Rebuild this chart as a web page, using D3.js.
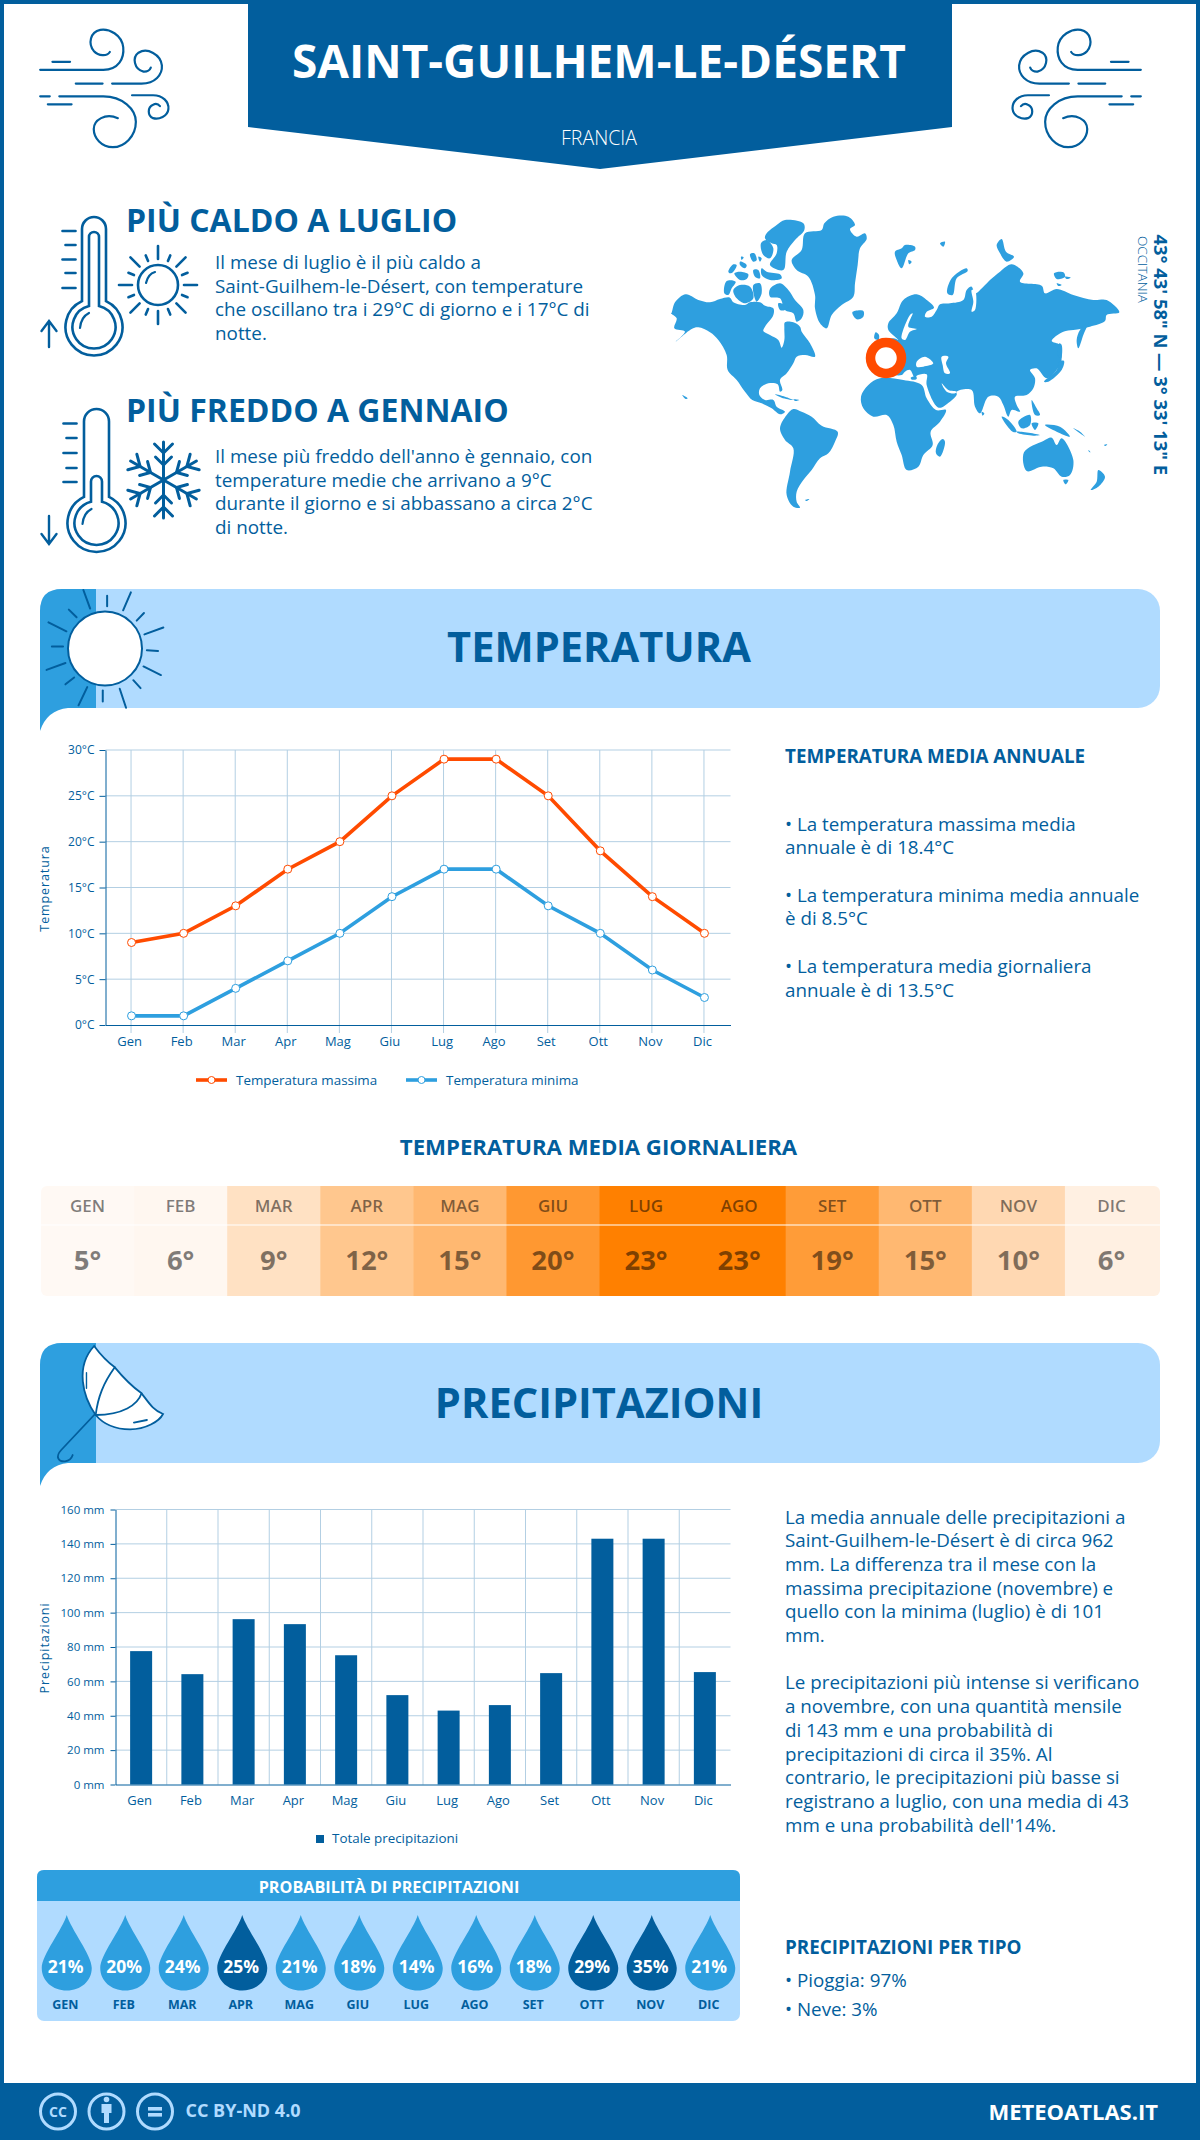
<!DOCTYPE html>
<html>
<head>
<meta charset="utf-8">
<script src="https://cdn.jsdelivr.net/npm/d3@7"></script>
<style>
  html, body { margin: 0; padding: 0; background: #fff; }
  svg { display: block; font-family: "Open Sans", sans-serif; }
  text { fill: #025e9d; }
</style>
</head>
<body>
<div id="chart"></div>
<script>
//chart values
var months = ["Gen", "Feb", "Mar", "Apr", "Mag", "Giu", "Lug", "Ago", "Set", "Ott", "Nov", "Dic"];
var monthsUpper = ["GEN", "FEB", "MAR", "APR", "MAG", "GIU", "LUG", "AGO", "SET", "OTT", "NOV", "DIC"];
var tempMax = [9, 10, 13, 17, 20, 25, 29, 29, 25, 19, 14, 10];
var tempMin = [1, 1, 4, 7, 10, 14, 17, 17, 13, 10, 6, 3];
var tempAvg = [5, 6, 9, 12, 15, 20, 23, 23, 19, 15, 10, 6];
//unrounded daily means
var tempAvgShade = [5, 5.3, 8.6, 12.5, 14.7, 19.4, 23, 23, 18.9, 14.7, 9.9, 6.3];
var precip = [77.6, 64.2, 96.2, 93.3, 75.2, 52, 43, 46.2, 64.8, 143, 143, 65.4];
var precipProb = [21, 20, 24, 25, 21, 18, 14, 16, 18, 29, 35, 21];
var tempTicks = [0, 5, 10, 15, 20, 25, 30];
var precipTicks = [0, 20, 40, 60, 80, 100, 120, 140, 160];

var hotLines = ["Il mese di luglio è il più caldo a", "Saint-Guilhem-le-Désert, con temperature", "che oscillano tra i 29°C di giorno e i 17°C di", "notte."];
var coldLines = ["Il mese più freddo dell'anno è gennaio, con", "temperature medie che arrivano a 9°C", "durante il giorno e si abbassano a circa 2°C", "di notte."];
var tempNotes = ["• La temperatura massima media", "annuale è di 18.4°C", "", "• La temperatura minima media annuale", "è di 8.5°C", "", "• La temperatura media giornaliera", "annuale è di 13.5°C"];
var precipNotes = ["La media annuale delle precipitazioni a", "Saint-Guilhem-le-Désert è di circa 962", "mm. La differenza tra il mese con la", "massima precipitazione (novembre) e", "quello con la minima (luglio) è di 101", "mm.", "", "Le precipitazioni più intense si verificano", "a novembre, con una quantità mensile", "di 143 mm e una probabilità di", "precipitazioni di circa il 35%. Al", "contrario, le precipitazioni più basse si", "registrano a luglio, con una media di 43", "mm e una probabilità dell'14%."];

var BLUE = "#025e9d", MID = "#2e9fdf", LIGHT = "#b0dbff", ORANGE = "#ff4b00", GRID = "#b3cfe3";

var svg = d3.select("#chart").append("svg")
    .attr("width", 1200)
    .attr("height", 2140);

//---------------- helpers -----------------------//
function label(parent, x, y, str, size, weight, anchor) {
    return parent.append("text")
        .attr("x", x)
        .attr("y", y)
        .attr("font-size", size)
        .attr("font-weight", weight || 400)
        .attr("text-anchor", anchor || "start")
        .text(str);
}

function lines(parent, x, y0, step, rows, size) {
    rows.forEach(function (row, i) {
        if (row) label(parent, x, y0 + i * step, row, size);
    });
}

//icon group, drawn in the coordinates of a crop and squeezed back
function iconGroup(tx, ty, sx, sy) {
    return svg.append("g")
        .attr("transform", "translate(" + tx + "," + ty + ") scale(" + sx + "," + sy + ")")
        .attr("fill", "none")
        .attr("stroke", BLUE);
}

function strokePath(g, d, width) {
    return g.append("path")
        .attr("d", d)
        .attr("fill", "none")
        .attr("stroke", BLUE)
        .attr("stroke-width", width)
        .attr("stroke-linecap", "round")
        .attr("vector-effect", "non-scaling-stroke");
}

//---------------- frame and header -----------------------//
svg.append("rect").attr("x", 2).attr("y", 2).attr("width", 1196).attr("height", 2136)
    .attr("fill", "#fff").attr("stroke", BLUE).attr("stroke-width", 4);

svg.append("path")
    .attr("d", "M248,0 H952 V127 L600,169 L248,127 Z")
    .attr("fill", BLUE);

label(svg, 599, 78, "SAINT-GUILHEM-LE-DÉSERT", 46, 700, "middle").style("fill", "#fff");
label(svg, 599, 145, "FRANCIA", 19.5, 300, "middle").style("fill", "#fff");

function drawWind(g) {
    var paths = [
        "M105,192 H270 C310,192 325,160 322,130 C318,95 285,78 262,82 C235,88 230,120 245,140 C258,155 280,155 287,143",
        "M137,170 H183",
        "M293,230 H370 C405,230 425,205 423,180 C420,150 385,130 362,145 C345,158 350,190 375,197 C385,198 392,192 394,186",
        "M198,230 H268",
        "M105,265 H130",
        "M155,265 H270 C320,265 355,300 355,335 C355,375 325,405 295,405 C265,405 245,380 245,355 C245,330 275,310 308,325",
        "M125,287 H187",
        "M345,262 H400 C425,262 442,280 440,300 C438,320 415,330 400,325 C385,318 385,295 400,288 C408,284 415,288 418,292"
    ];
    paths.forEach(function (d) { strokePath(g, d, 2.2); });
}
drawWind(iconGroup(0, 0, 1 / 2.613, 1 / 2.751));
drawWind(iconGroup(1181, 0, -1 / 2.613, 1 / 2.751));

//---------------- hottest and coldest month -----------------------//
function thermometer(cx, cy, R, w, top, r2, w2, top2, tickX, tickYs) {
    var g = svg.append("g");
    function bulb(rr, ww, tt) {
        var j = cy - Math.sqrt(rr * rr - ww * ww);
        return "M" + (cx - ww) + "," + j + " V" + (tt + ww) +
            " A" + ww + "," + ww + " 0 0 1 " + (cx + ww) + "," + (tt + ww) +
            " V" + j + " A" + rr + "," + rr + " 0 1 1 " + (cx - ww) + "," + j + " Z";
    }
    strokePath(g, bulb(R, w, top), 2.6);
    strokePath(g, bulb(r2, w2, top2), 2.6);
    strokePath(g, "M" + (cx - 14) + "," + (cy + 1) + " Q" + (cx - 13) + "," + (cy - 10) + " " + (cx - 5) + "," + (cy - 14), 2.2);
    tickYs.forEach(function (y, i) {
        strokePath(g, "M" + (i % 2 ? tickX + 3 : tickX) + "," + y + " H" + (tickX + 13), 2.6);
    });
}
thermometer(94, 327, 28.5, 12, 217, 21.5, 5, 232, 62.5, [231, 245, 259.5, 273, 288]);
thermometer(96.5, 523, 29, 12.5, 409, 22, 5.5, 476, 63.5, [423.5, 438, 453, 468, 482]);
strokePath(svg, "M49,347 V322 M41.5,331 L49,321 L56.5,331", 2.4);
strokePath(svg, "M49,516 V543 M41.5,534 L49,544 L56.5,534", 2.4);

//sun next to the first thermometer
var smallSun = svg.append("g").attr("transform", "translate(158,285)");
smallSun.append("circle").attr("r", 20).attr("fill", "none").attr("stroke", BLUE).attr("stroke-width", 2.6);
strokePath(smallSun, "M-12,-2 Q-10,-11 -3,-13", 2.2);
d3.range(16).forEach(function (i) {
    var a = i * Math.PI / 8, isLong = i % 2 === 0;
    var r0 = 26, r1 = isLong ? 39 : 32;
    strokePath(smallSun, "M" + r0 * Math.cos(a) + "," + r0 * Math.sin(a) + " L" + r1 * Math.cos(a) + "," + r1 * Math.sin(a), 2.6);
});

//snowflake next to the second thermometer
var flake = svg.append("g").attr("transform", "translate(163.5,480)");
d3.range(6).forEach(function (i) {
    var arm = flake.append("g").attr("transform", "rotate(" + (i * 60) + ")");
    strokePath(arm, "M0,0 V-38", 3);
    strokePath(arm, "M-9,-36 L0,-27 L9,-36", 3);
    strokePath(arm, "M-8,-23 L0,-15 L8,-23", 3);
});

label(svg, 126, 231.5, "PIÙ CALDO A LUGLIO", 32, 700);
lines(svg, 215, 269, 23.7, hotLines, 18.85);
label(svg, 126, 421.5, "PIÙ FREDDO A GENNAIO", 32, 700);
lines(svg, 215, 463, 23.7, coldLines, 18.85);

//---------------- world map, hand traced -----------------------//
var westLand = [
    [[20,293],[30,262],[62,238],[100,255],[135,262],[165,252],[195,248],[205,262],[240,270],[255,262],[285,262],[300,272],[325,280],[325,300],[300,335],[295,348],[315,360],[340,375],[350,398],[358,375],[358,340],[360,322],[385,322],[405,335],[410,350],[435,385],[450,425],[420,420],[395,425],[385,445],[365,475],[345,495],[352,525],[345,530],[338,508],[310,505],[285,520],[283,540],[300,555],[325,555],[335,575],[360,590],[345,598],[320,580],[290,565],[262,555],[240,530],[215,495],[188,465],[185,420],[160,375],[135,352],[100,337],[80,342],[32,380],[60,350],[28,340],[35,310],[18,295]],
    [[315,222],[345,205],[370,225],[390,255],[415,285],[410,310],[395,320],[385,295],[360,285],[345,250],[315,245]],
    [[305,55],[335,30],[360,15],[415,25],[418,45],[390,75],[365,110],[355,165],[315,150],[335,115],[335,90],[320,85],[300,70]],
    [[288,85],[305,75],[325,100],[315,130],[295,120]],
    [[255,118],[268,115],[275,135],[265,140]],
    [[280,125],[290,130],[285,140]],
    [[228,125],[236,127],[230,135]],
    [[190,170],[205,148],[215,150],[205,170],[195,175]],
    [[225,140],[245,150],[240,160],[225,150]],
    [[208,175],[225,170],[250,178],[245,192],[225,195]],
    [[265,165],[280,165],[285,190],[270,185]],
    [[290,160],[305,170],[345,178],[350,190],[315,195],[290,180]],
    [[178,235],[185,198],[212,200],[200,220],[190,240]],
    [[205,225],[225,210],[255,215],[265,250],[240,265],[215,250]],
    [[265,210],[285,205],[290,235],[275,260]],
    [[340,265],[370,275],[360,285],[345,285]],
    [[380,135],[410,105],[420,55],[470,45],[478,25],[505,5],[550,5],[570,30],[555,42],[575,65],[600,55],[605,72],[585,100],[578,150],[570,205],[565,245],[530,270],[500,300],[485,340],[465,325],[450,280],[450,240],[430,185],[395,165]],
    [[345,640],[365,600],[385,582],[410,590],[440,605],[470,632],[518,650],[510,680],[490,715],[465,730],[440,765],[415,795],[395,830],[395,860],[405,878],[385,875],[365,840],[375,770],[385,700],[360,675]],
    [[330,538],[360,545],[385,555],[350,548]],
    [[385,553],[403,555],[390,558]],
    [[420,855],[433,852],[425,858]],
    [[52,540],[68,550],[62,552]],
    [[562,292],[595,288],[595,305],[575,313]],
    [[628,370],[632,352],[642,360],[640,375]]
];
var eastLand = [
    [[85,345],[85,325],[110,295],[130,255],[170,238],[200,255],[222,278],[200,290],[195,305],[215,305],[230,285],[240,268],[270,265],[310,255],[320,225],[335,215],[345,235],[370,215],[390,195],[420,170],[455,148],[490,175],[480,200],[545,212],[555,235],[590,222],[640,240],[700,255],[740,255],[778,292],[740,300],[735,318],[690,335],[640,345],[610,350],[575,378],[600,390],[605,430],[600,450],[560,490],[530,460],[510,465],[525,490],[520,520],[500,540],[465,545],[470,570],[480,590],[455,585],[445,605],[430,570],[415,545],[385,545],[360,595],[345,575],[335,525],[290,530],[290,540],[270,560],[236,578],[200,510],[200,478],[170,482],[165,490],[150,465],[135,470],[125,480],[100,480],[60,470],[40,430],[60,385],[100,370],[115,375]],
    [[3,545],[25,510],[60,490],[130,495],[185,510],[200,550],[228,585],[258,585],[240,620],[212,650],[218,690],[190,720],[175,755],[140,765],[125,720],[110,680],[100,630],[80,600],[40,605],[10,580]],
    [[248,672],[255,680],[240,725],[228,715],[232,690]],
    [[105,110],[125,100],[135,90],[165,95],[165,105],[145,115],[125,160],[110,135]],
    [[145,135],[155,140],[148,148]],
    [[240,85],[255,80],[250,95]],
    [[262,235],[275,190],[320,160],[323,168],[290,190],[278,240]],
    [[410,90],[425,72],[438,110],[462,125],[440,140],[420,115]],
    [[582,175],[610,172],[615,185],[590,192]],
    [[615,185],[632,188],[620,192]],
    [[590,205],[605,210],[595,213]],
    [[650,375],[660,345],[685,322],[670,360],[655,400]],
    [[552,500],[590,465],[598,440],[612,438],[605,465],[565,500]],
    [[598,385],[605,390],[603,430],[595,425]],
    [[365,590],[373,595],[368,602]],
    [[425,605],[445,615],[470,650],[458,650]],
    [[470,650],[540,660],[520,662],[475,655]],
    [[475,620],[510,600],[510,630],[485,640]],
    [[515,625],[535,625],[525,645]],
    [[515,555],[530,580],[540,600],[525,600]],
    [[555,630],[600,635],[630,665],[590,650]],
    [[640,640],[675,665],[660,650]],
    [[492,712],[550,678],[575,668],[590,690],[605,670],[640,735],[630,780],[605,785],[580,760],[545,755],[500,768]],
    [[610,795],[625,795],[617,808]],
    [[715,765],[735,785],[715,815],[692,825],[710,800]],
    [[685,705],[692,712],[687,710]],
    [[732,690],[742,688],[736,693]],
    [[152,488],[168,484],[170,492],[156,494]]
];
var eastSea = [
    [[125,370],[150,300],[158,295],[145,335],[170,342],[150,350],[135,375]],
    [[170,440],[195,425],[220,445],[190,455],[170,455]],
    [[245,425],[265,425],[258,445],[270,475],[255,475],[248,450]],
    [[245,505],[265,525],[290,530],[285,535],[260,530]],
    [[335,225],[345,225],[345,285],[335,290],[340,260]]
];
var ringLine = d3.line().curve(d3.curveCatmullRomClosed.alpha(0.5));

function drawRings(group, rings, color) {
    group.selectAll("path.r" + color.slice(1)).data(rings).enter().append("path")
        .attr("class", "r" + color.slice(1))
        .attr("d", function (d) { return ringLine(d); })
        .attr("fill", color);
}
var westMap = svg.append("g").attr("transform", "translate(665,215) scale(" + (1 / 3) + ")");
var eastMap = svg.append("g").attr("transform", "translate(860,215) scale(" + (1 / 3) + ")");
drawRings(westMap, westLand, MID);
drawRings(eastMap, eastLand, MID);
drawRings(eastMap, eastSea, "#ffffff");

svg.append("circle").attr("cx", 886).attr("cy", 358).attr("r", 15.5)
    .attr("fill", "#fff").attr("stroke", ORANGE).attr("stroke-width", 9.5);

label(svg, 0, 0, "43° 43' 58\" N — 3° 33' 13\" E", 18.4, 700)
    .attr("transform", "translate(1154,234.5) rotate(90)");
label(svg, 0, 0, "OCCITANIA", 13.5, 300)
    .attr("transform", "translate(1138,236) rotate(90)");

//---------------- section banners -----------------------//
function banner(y0, y1, title, baseline, size) {
    svg.append("rect").attr("x", 40).attr("y", y0).attr("width", 1120).attr("height", y1 - y0)
        .attr("rx", 22).attr("ry", 22).attr("fill", LIGHT);
    svg.append("path")
        .attr("d", "M40," + (y1 + 23) + " V" + (y0 + 22) + " Q40," + y0 + " 62," + y0 + " H96 V" + y1 +
            " H68 Q47," + (y1 + 2) + " 40," + (y1 + 23) + " Z")
        .attr("fill", MID);
    label(svg, 599, baseline, title, size, 700, "middle");
}
banner(589, 708, "TEMPERATURA", 662, 41.6);
banner(1343, 1463, "PRECIPITAZIONI", 1418, 41.6);

//big sun on the temperature banner
var bannerSun = iconGroup(0, 570, 1 / 2.063, 1 / 2.904);
var sunRays = [
    [172,58,186,112],[221,75,221,105],[270,65,254,117],[297,125,282,147],
    [337,167,298,187],[326,235,303,233],[332,305,296,280],[290,343,275,320],
    [260,400,247,345],[212,382,212,350],[180,340,162,393],[153,312,135,332],
    [135,270,96,290],[130,222,107,222],[137,178,100,152],[158,137,142,115]
];
sunRays.forEach(function (r) {
    strokePath(bannerSun, "M" + r[0] + "," + r[1] + " L" + r[2] + "," + r[3], 2);
});
svg.append("circle").attr("cx", 105).attr("cy", 648.5).attr("r", 37)
    .attr("fill", "#fff").attr("stroke", BLUE).attr("stroke-width", 2);
strokePath(bannerSun, "M172,165 Q185,145 208,138", 2);
strokePath(bannerSun, "M205,316 H212 M222,318 Q243,315 255,300", 2);

//umbrella on the precipitation banner
var umbrella = iconGroup(0, 1120, 1 / 1.3067, 1 / 3);
strokePath(umbrella, "M123,885 L80,990 C72,1010 76,1025 85,1024 C92,1022 94,1012 95,1005", 1.8);
strokePath(umbrella, "M123,678 C98,740 108,830 125,885 C135,912 150,928 170,928 C190,928 208,905 213,882 C200,870 195,850 185,820 C170,795 160,770 150,742 C140,725 130,700 123,678 Z", 1.8)
    .attr("fill", "#fff");
strokePath(umbrella, "M125,885 C128,830 135,790 150,742", 1.8);
strokePath(umbrella, "M125,885 C160,885 180,855 185,820", 1.8);
strokePath(umbrella, "M113,758 V805", 1.4);
strokePath(umbrella, "M175,908 L192,900", 1.8);

//---------------- temperature chart -----------------------//
var tempX = d3.scaleBand().domain(months).range([105.5, 730.5]);
var tempY = d3.scaleLinear().domain([0, 30]).range([1025, 750]);

svg.append("g").selectAll("line").data(tempTicks.slice(1)).enter().append("line")
    .attr("x1", 105.5).attr("x2", 730.5)
    .attr("y1", function (d) { return tempY(d); })
    .attr("y2", function (d) { return tempY(d); })
    .attr("stroke", GRID);
svg.append("g").selectAll("line").data(months).enter().append("line")
    .attr("x1", function (d) { return tempX(d) + tempX.bandwidth() / 2 - 0.5; })
    .attr("x2", function (d) { return tempX(d) + tempX.bandwidth() / 2 - 0.5; })
    .attr("y1", 750).attr("y2", 1033)
    .attr("stroke", GRID);

function styleAxis(g, size) {
    g.selectAll("text").attr("font-size", size).style("fill", BLUE).attr("font-family", "'Open Sans', sans-serif");
    g.selectAll("line").attr("stroke", BLUE);
    g.select(".domain").attr("stroke", BLUE);
}

var tempAxisY = svg.append("g").attr("transform", "translate(105.5,0)")
    .call(d3.axisLeft(tempY).tickValues(tempTicks).tickSize(6).tickPadding(5).tickSizeOuter(0)
        .tickFormat(function (d) { return d + "°C"; }));
styleAxis(tempAxisY, 12);
var tempAxisX = svg.append("g").attr("transform", "translate(0,1025)")
    .call(d3.axisBottom(tempX).tickSize(0).tickPadding(11.5).tickSizeOuter(0));
styleAxis(tempAxisX, 13);
tempAxisX.selectAll("text").attr("dx", -2);

label(svg, 0, 0, "Temperatura", 12.5, 400, "middle")
    .attr("transform", "translate(49,888.5) rotate(-90)")
    .attr("letter-spacing", 0.9);

var tempLine = d3.line()
    .x(function (d, i) { return tempX(months[i]) + tempX.bandwidth() / 2; })
    .y(function (d) { return tempY(d); });

function drawSeries(values, color) {
    svg.append("path").datum(values)
        .attr("d", tempLine)
        .attr("fill", "none")
        .attr("stroke", color)
        .attr("stroke-width", 3.6);
    svg.append("g").selectAll("circle").data(values).enter().append("circle")
        .attr("cx", function (d, i) { return tempX(months[i]) + tempX.bandwidth() / 2; })
        .attr("cy", function (d) { return tempY(d); })
        .attr("r", 4)
        .attr("fill", "#fff")
        .attr("stroke", color)
        .attr("stroke-width", 1);
}
drawSeries(tempMax, ORANGE);
drawSeries(tempMin, MID);

function lineKey(x0, text, color) {
    svg.append("line").attr("x1", x0).attr("x2", x0 + 31).attr("y1", 1080).attr("y2", 1080)
        .attr("stroke", color).attr("stroke-width", 3.6);
    svg.append("circle").attr("cx", x0 + 15.5).attr("cy", 1080).attr("r", 3.5)
        .attr("fill", "#fff").attr("stroke", color);
    label(svg, x0 + 40, 1084.5, text, 13.4);
}
lineKey(196, "Temperatura massima", ORANGE);
lineKey(406, "Temperatura minima", MID);

label(svg, 785, 763, "TEMPERATURA MEDIA ANNUALE", 18.8, 700);
lines(svg, 785, 830.5, 23.7, tempNotes.slice(0, 2), 18.8);
lines(svg, 785, 901.5, 23.7, tempNotes.slice(3, 5), 18.8);
lines(svg, 785, 973, 23.7, tempNotes.slice(6, 8), 18.8);

//---------------- daily mean table -----------------------//
label(svg, 598.5, 1155, "TEMPERATURA MEDIA GIORNALIERA", 22.2, 700, "middle");

var heatX = d3.scaleBand().domain(months).range([41, 1158]);
var heatColor = d3.scaleLinear().domain([5, 23]).range(["#fff9f4", "#ff8000"]);

svg.append("clipPath").attr("id", "heatClip").append("rect")
    .attr("x", 41).attr("y", 1186).attr("width", 1119).attr("height", 110).attr("rx", 6);

var heatCells = svg.append("g").attr("clip-path", "url(#heatClip)");
heatCells.selectAll("rect").data(months).enter().append("rect")
    .attr("x", function (d) { return heatX(d); })
    .attr("y", 1186)
    .attr("width", function (d, i) { return heatX.bandwidth() + (i === 11 ? 3 : 0.5); })
    .attr("height", 110)
    .attr("fill", function (d, i) { return heatColor(tempAvgShade[i]); });
heatCells.append("line").attr("x1", 41).attr("x2", 1160).attr("y1", 1225).attr("y2", 1225)
    .attr("stroke", "#fff").attr("stroke-width", 1.2);

svg.append("g").selectAll("text").data(monthsUpper).enter().append("text")
    .attr("x", function (d, i) { return heatX(months[i]) + heatX.bandwidth() / 2; })
    .attr("y", 1211.5)
    .attr("text-anchor", "middle")
    .attr("font-size", 17)
    .attr("font-weight", 600)
    .style("fill", "#000")
    .attr("fill-opacity", 0.5)
    .text(function (d) { return d; });
svg.append("g").selectAll("text").data(tempAvg).enter().append("text")
    .attr("x", function (d, i) { return heatX(months[i]) + heatX.bandwidth() / 2; })
    .attr("y", 1270)
    .attr("text-anchor", "middle")
    .attr("font-size", 27.5)
    .attr("font-weight", 700)
    .style("fill", "#000")
    .attr("fill-opacity", 0.5)
    .text(function (d) { return d + "°"; });

//---------------- precipitation chart -----------------------//
var precipX = d3.scaleBand().domain(months).range([115.5, 730.5]);
var precipY = d3.scaleLinear().domain([0, 160]).range([1784.5, 1509.5]);

svg.append("g").selectAll("line").data(precipTicks.slice(1)).enter().append("line")
    .attr("x1", 115.5).attr("x2", 730.5)
    .attr("y1", function (d) { return precipY(d); })
    .attr("y2", function (d) { return precipY(d); })
    .attr("stroke", GRID);
svg.append("g").selectAll("line").data(months.slice(1)).enter().append("line")
    .attr("x1", function (d) { return precipX(d); })
    .attr("x2", function (d) { return precipX(d); })
    .attr("y1", 1509.5).attr("y2", 1784.5)
    .attr("stroke", GRID);

svg.append("g").selectAll("rect").data(precip).enter().append("rect")
    .attr("x", function (d, i) { return precipX(months[i]) + precipX.bandwidth() / 2 - 11; })
    .attr("y", function (d) { return precipY(d); })
    .attr("width", 22)
    .attr("height", function (d) { return precipY(0) - precipY(d); })
    .attr("fill", BLUE);

var precipAxisY = svg.append("g").attr("transform", "translate(115.5,0)")
    .call(d3.axisLeft(precipY).tickValues(precipTicks).tickSize(5).tickPadding(6).tickSizeOuter(0)
        .tickFormat(function (d) { return d + " mm"; }));
styleAxis(precipAxisY, 11.5);
var precipAxisX = svg.append("g").attr("transform", "translate(0,1784.5)")
    .call(d3.axisBottom(precipX).tickSize(0).tickPadding(11.3).tickSizeOuter(0));
styleAxis(precipAxisX, 13);
precipAxisX.selectAll("text").attr("dx", -1.5);

label(svg, 0, 0, "Precipitazioni", 12.5, 400, "middle")
    .attr("transform", "translate(49,1648) rotate(-90)")
    .attr("letter-spacing", 0.9);

svg.append("rect").attr("x", 316).attr("y", 1835).attr("width", 8).attr("height", 8).attr("fill", BLUE);
label(svg, 332, 1843, "Totale precipitazioni", 13.4);

lines(svg, 785, 1523.5, 23.7, precipNotes, 18.8);
label(svg, 785, 1954, "PRECIPITAZIONI PER TIPO", 18.8, 700);
label(svg, 785, 1987, "• Pioggia: 97%", 18.8);
label(svg, 785, 2016, "• Neve: 3%", 18.8);

//---------------- rain probability -----------------------//
svg.append("rect").attr("x", 37).attr("y", 1870).attr("width", 703).attr("height", 151).attr("rx", 7).attr("fill", LIGHT);
svg.append("path").attr("d", "M37,1901 V1877 Q37,1870 44,1870 H733 Q740,1870 740,1877 V1901 Z").attr("fill", MID);
label(svg, 389, 1892.5, "PROBABILITÀ DI PRECIPITAZIONI", 16.2, 700, "middle").style("fill", "#fff");

var probX = d3.scaleBand().domain(months).range([37.5, 739.5]);
var probColor = d3.scaleThreshold().domain([25]).range([MID, BLUE]);
var dropPath = "M0,0 C4,14 25,40 25,53 C25,66 14,75.5 0,75.5 C-14,75.5 -25,66 -25,53 C-25,40 -4,14 0,0 Z";

var drops = svg.append("g").selectAll("g").data(precipProb).enter().append("g")
    .attr("transform", function (d, i) {
        return "translate(" + (probX(months[i]) + probX.bandwidth() / 2) + ",1915)";
    });
drops.append("path").attr("d", dropPath)
    .attr("fill", function (d) { return probColor(d); });
drops.append("text")
    .attr("x", -1)
    .attr("y", 57.7)
    .attr("text-anchor", "middle")
    .attr("font-size", 17.5)
    .attr("font-weight", 700)
    .style("fill", "#fff")
    .text(function (d) { return d + "%"; });
drops.append("text")
    .attr("x", -1.5)
    .attr("y", 94)
    .attr("text-anchor", "middle")
    .attr("font-size", 12.5)
    .attr("font-weight", 700)
    .text(function (d, i) { return monthsUpper[i]; });

//---------------- footer -----------------------//
svg.append("rect").attr("x", 0).attr("y", 2083).attr("width", 1200).attr("height", 57).attr("fill", BLUE);

[58, 106.5, 155].forEach(function (cx) {
    svg.append("circle").attr("cx", cx).attr("cy", 2111.5).attr("r", 17.5)
        .attr("fill", "none").attr("stroke", LIGHT).attr("stroke-width", 3);
});
label(svg, 58, 2116.7, "CC", 14, 700, "middle").style("fill", LIGHT);
svg.append("circle").attr("cx", 106.5).attr("cy", 2099.5).attr("r", 2.8).attr("fill", LIGHT);
svg.append("path").attr("d", "M101.5,2104 H111.5 V2113 H109 V2123 H104 V2113 H101.5 Z").attr("fill", LIGHT);
svg.append("rect").attr("x", 148).attr("y", 2107).attr("width", 14).attr("height", 3.6).attr("fill", LIGHT);
svg.append("rect").attr("x", 148).attr("y", 2113).attr("width", 14).attr("height", 3.6).attr("fill", LIGHT);
label(svg, 185.5, 2117, "CC BY-ND 4.0", 18, 700).style("fill", LIGHT);
label(svg, 1158, 2120, "METEOATLAS.IT", 22, 700, "end").style("fill", "#fff");
</script>
</body>
</html>
